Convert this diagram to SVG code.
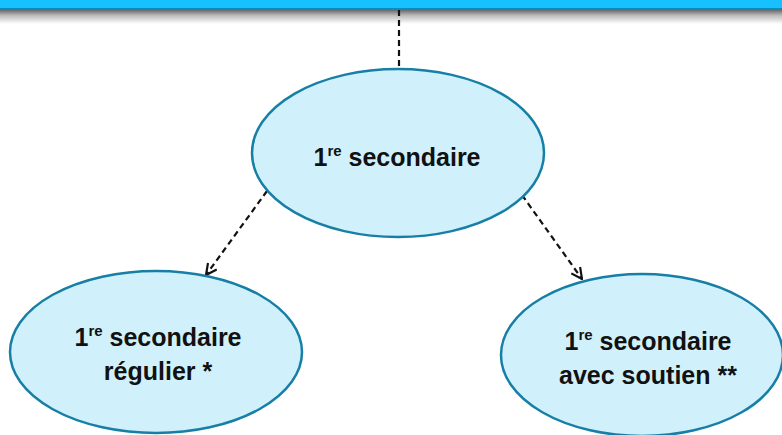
<svg xmlns="http://www.w3.org/2000/svg" width="782" height="435" viewBox="0 0 782 435">
<style>
.node ellipse{fill:#D0F1FC;stroke:#177FA6;stroke-width:2.5}
.lbl{font-family:"Liberation Sans",Arial,sans-serif;font-weight:bold;font-size:25px;fill:#111;text-anchor:middle}
.sup{font-size:15px}
.conn{stroke:#111;stroke-width:2.2;stroke-dasharray:6,4;fill:none}
</style>
<defs>
<linearGradient id="shadow" x1="0" y1="0" x2="0" y2="1">
<stop offset="0" stop-color="#6a6a6a"/>
<stop offset="0.4" stop-color="#bdbdbd"/>
<stop offset="1" stop-color="#ffffff"/>
</linearGradient>
<marker id="arrow" viewBox="0 0 12 12" refX="11" refY="6" markerWidth="13" markerHeight="13" markerUnits="userSpaceOnUse" orient="auto">
<path d="M1,1 L11,6 L1,11" fill="none" stroke="#111" stroke-width="2"/>
</marker>
</defs>
<rect width="782" height="435" fill="#fff"/>
<g id="banner">
<rect x="0" y="10" width="782" height="14" fill="url(#shadow)"/>
<rect x="0" y="0" width="782" height="9" fill="#17C0FF"/>
<rect x="0" y="8" width="782" height="2" fill="#0A8DBD"/>
</g>
<g id="connectors">
<line class="conn" x1="399" y1="10" x2="399" y2="69"/>
<line class="conn" x1="267" y1="191" x2="206" y2="275" marker-end="url(#arrow)"/>
<line class="conn" x1="522" y1="195" x2="582" y2="279" marker-end="url(#arrow)"/>
</g>
<g id="node-top" class="node">
<ellipse cx="398" cy="153" rx="146" ry="84"/>
<text class="lbl" x="397" y="166">1<tspan class="sup" dy="-10">re</tspan><tspan dy="10"> secondaire</tspan></text>
</g>
<g id="node-left" class="node">
<ellipse cx="156" cy="352" rx="146" ry="81"/>
<text class="lbl" x="158" y="346">1<tspan class="sup" dy="-10">re</tspan><tspan dy="10"> secondaire</tspan></text>
<text class="lbl" x="158" y="380">régulier *</text>
</g>
<g id="node-right" class="node">
<ellipse cx="642" cy="355" rx="141" ry="81"/>
<text class="lbl" x="648" y="350">1<tspan class="sup" dy="-10">re</tspan><tspan dy="10"> secondaire</tspan></text>
<text class="lbl" x="648" y="384">avec soutien **</text>
</g>
</svg>
